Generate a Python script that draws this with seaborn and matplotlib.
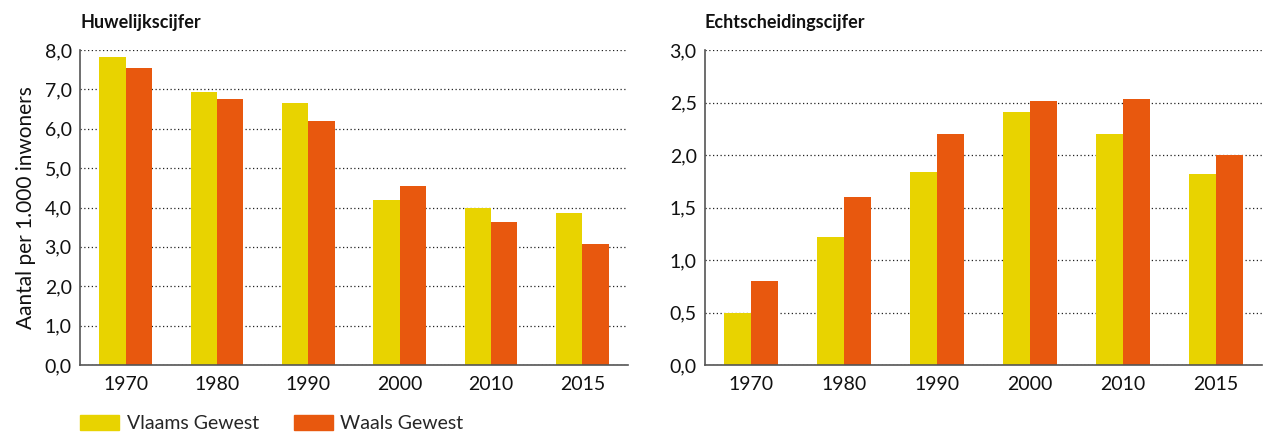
import numpy as np
import pandas as pd
import matplotlib
matplotlib.use("Agg")
import matplotlib.pyplot as plt
import seaborn as sns
from matplotlib.ticker import FuncFormatter, FixedLocator

years = ["1970", "1980", "1990", "2000", "2010", "2015"]
series = ["Vlaams Gewest", "Waals Gewest"]
huwelijk_vlaams = [7.83, 6.93, 6.65, 4.20, 3.98, 3.87]
huwelijk_waals = [7.55, 6.76, 6.20, 4.55, 3.64, 3.07]
echtscheiding_vlaams = [0.50, 1.22, 1.84, 2.41, 2.20, 1.82]
echtscheiding_waals = [0.80, 1.60, 2.20, 2.51, 2.53, 2.00]

colors = ["#E8D300", "#E8580E"]


def make_df(vl, wa):
    return pd.DataFrame({
        "jaar": years * 2,
        "gewest": [series[0]] * len(years) + [series[1]] * len(years),
        "waarde": list(vl) + list(wa),
    })


sns.set_style("white")
plt.rcParams["font.family"] = ["Lato", "DejaVu Sans"]

W, H = 1266, 432
fig = plt.figure(figsize=(W / 100, H / 100), dpi=100)
ax1 = fig.add_axes([80 / W, (H - 365) / H, (628 - 80) / W, (365 - 50) / H])
ax2 = fig.add_axes([705 / W, (H - 365) / H, (1262 - 705) / W, (365 - 50) / H])

panels = [
    (ax1, make_df(huwelijk_vlaams, huwelijk_waals), "Huwelijkscijfer", 8.0, 1.0),
    (ax2, make_df(echtscheiding_vlaams, echtscheiding_waals), "Echtscheidingscijfer", 3.0, 0.5),
]

for ax, df, title, ymax, step in panels:
    sns.barplot(data=df, x="jaar", y="waarde", hue="gewest", palette=colors,
                width=0.58, gap=0, saturation=1, ax=ax, legend=False,
                edgecolor="none", linewidth=0)
    ax.set_xlim(-0.5, len(years) - 0.5)
    ax.set_ylim(0, ymax)
    ax.set_yticks(np.arange(0, ymax + step / 2, step))
    ax.yaxis.set_major_formatter(FuncFormatter(lambda v, p: f"{v:.1f}".replace(".", ",")))
    ax.yaxis.grid(True, linestyle=(0, (1, 2)), color="#222222", linewidth=0.9)
    ax.set_axisbelow(True)
    for s in ["top", "right"]:
        ax.spines[s].set_visible(False)
    for s in ["left", "bottom"]:
        ax.spines[s].set_color("#555555")
        ax.spines[s].set_linewidth(1.2)
    ax.tick_params(axis="y", length=0, labelsize=14, pad=6, colors="#111111")
    ax.tick_params(axis="x", which="major", length=0, labelsize=14, pad=8, colors="#111111")
    ax.xaxis.set_minor_locator(FixedLocator(np.arange(-0.5, len(years), 1.0)))
    ax.tick_params(axis="x", which="minor", length=6, width=1.2, color="#555555")
    ax.set_xlabel("")
    ax.set_ylabel("")
    ax.text(0, 1.06, title, transform=ax.transAxes, fontsize=13, fontweight="bold",
            ha="left", va="bottom", color="#111111")

ax1.set_ylabel("Aantal per 1.000 inwoners", fontsize=15, labelpad=6, color="#111111")

handles = [plt.Rectangle((0, 0), 1, 1, color=c) for c in colors]
fig.legend(handles, series, loc="lower left", bbox_to_anchor=(80 / W, 0.0),
           ncol=2, frameon=False, fontsize=14, handlelength=2.0, handleheight=0.85,
           columnspacing=1.8, handletextpad=0.4, borderpad=0, borderaxespad=0)

fig.savefig("out.png", dpi=100)
